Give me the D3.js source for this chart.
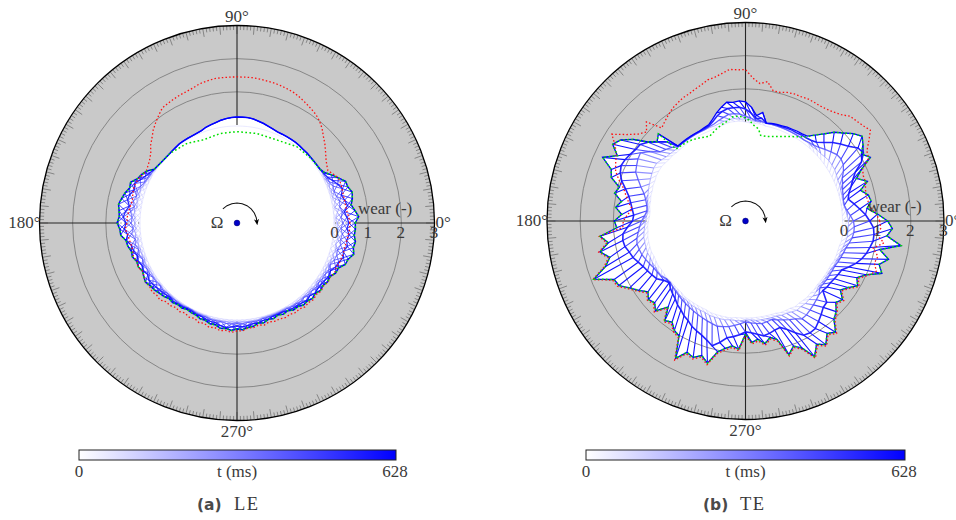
<!DOCTYPE html>
<html><head><meta charset="utf-8">
<script src="https://cdn.jsdelivr.net/npm/d3@7"></script>
<style>html,body{margin:0;background:#fff}svg{display:block}</style></head>
<body><svg id="c" width="956" height="520"></svg>
<script>
// Angles of the common sampling grid (degrees, counter-clockwise from east)
const gridAngles = d3.range(0, 360, 3);
const wearTicks = [0, 1, 2, 3];
const angleLabels = ["0°", "90°", "180°", "270°"];
const colorbarLabels = ["0", "t (ms)", "628"];
const tMax = 628;
const snapshotTimes = [60, 170, 370, 540, 628];

// LE panel: wear per snapshot, 10 values per row = 30 degrees
const leInner = [
 -.03,-.03,-.03,-.03,-.03,-.03,-.03,-.03,-.03,-.03,
 -.03,-.03,-.03,-.03,-.03,-.03,-.03,-.03,-.03,-.03,
 -.03,-.03,-.03,-.03,-.03,-.03,-.03,-.03,-.03,-.03,
 -.03,-.03,-.03,-.03,-.03,-.03,-.03,-.03,-.03,-.03,
 -.03,-.03,-.03,-.03,-.04,-.05,-.05,-.05,-.04,-.04,
 -.03,-.03,-.03,-.03,-.03,-.03,-.03,-.03,-.03,-.03,
 -.03,-.03,-.03,-.03,-.03,-.03,-.03,-.03,-.03,-.03,
 -.03,-.03,-.03,-.03,-.03,-.03,-.03,-.03,-.03,-.03,
 -.03,-.03,-.03,-.03,-.03,-.03,-.03,-.03,-.03,-.03,
 -.03,-.03,-.03,-.03,-.03,-.03,-.03,-.03,-.03,-.03,
 -.03,-.03,-.03,-.03,-.03,-.03,-.03,-.03,-.03,-.03,
 -.03,-.03,-.03,-.03,-.03,-.03,-.03,-.03,-.03,-.03];
const leLow = [
 .06,.03,.09,.03,.06,.03,.03,.03,.03,.0,
 .02,.02,.02,.02,.02,.03,.03,.04,.05,.05,
 .05,.05,.05,.08,.11,.15,.18,.22,.24,.24,
 .24,.23,.21,.18,.14,.11,.08,.03,.01,0,
 0,0,0,-.02,-.03,-.04,-.04,-.03,-.01,.01,
 .01,.03,.06,.09,.12,.09,.12,.09,.15,.12,
 .12,.09,.12,.06,.09,.06,.06,.03,.06,.03,
 .03,.03,.03,.01,.03,.01,.0,.01,.0,.0,
 -.01,-.01,.0,.0,.0,.03,.03,.03,.03,.03,
 .03,.03,.03,.03,.03,.0,.0,.0,.0,.0,
 .0,.03,.03,.03,.03,.03,.03,.06,.03,.06,
 .06,.06,.06,.09,.09,.12,.09,.12,.09,.09];
const leMid = [
 .24,.18,.24,.18,.21,.15,.12,.15,.09,.05,
 .04,.02,.02,.02,.02,.03,.03,.04,.05,.05,
 .05,.05,.05,.08,.11,.15,.18,.22,.24,.24,
 .24,.23,.21,.18,.14,.11,.08,.03,.01,0,
 0,0,0,-.02,-.03,-.04,-.04,-.03,-.01,.01,
 .03,.06,.09,.15,.21,.18,.24,.18,.27,.21,
 .24,.18,.24,.15,.18,.12,.15,.09,.12,.09,
 .09,.06,.06,.03,.06,.03,.03,.03,.03,.03,
 0,0,.03,.03,.03,.06,.06,.06,.09,.09,
 .06,.09,.06,.06,.06,.03,.03,.03,.03,.03,
 .03,.06,.06,.09,.06,.09,.09,.12,.09,.12,
 .12,.15,.12,.18,.21,.18,.24,.21,.24,.18];
const leDark = [
 .42,.36,.30,.42,.36,.30,.39,.30,.20,.10,
 .05,.02,.02,.02,.02,.03,.03,.04,.05,.05,
 .05,.05,.05,.08,.11,.15,.18,.22,.24,.24,
 .24,.23,.21,.18,.14,.11,.08,.03,.01,0,
 0,0,0,-.02,-.03,-.04,-.04,-.03,-.01,.01,
 .08,.15,.24,.36,.30,.39,.42,.33,.42,.48,
 .39,.45,.36,.42,.30,.27,.21,.24,.18,.21,
 .15,.21,.18,.15,.12,.09,.06,.09,.06,.06,
 .03,.03,.06,.06,.09,.12,.12,.18,.21,.18,
 .15,.18,.15,.12,.12,.09,.09,.06,.06,.06,
 .09,.12,.12,.15,.18,.15,.21,.18,.18,.21,
 .24,.21,.30,.33,.42,.36,.45,.39,.45,.36];
const leFinal = [
 .61,.72,.62,.53,.60,.64,.56,.55,.39,.24,
 .09,.03,.02,.02,.02,.03,.03,.04,.05,.05,
 .05,.05,.05,.08,.11,.15,.18,.22,.24,.24,
 .24,.23,.21,.18,.14,.11,.08,.03,.01,0,
 0,0,0,-.02,-.03,-.04,-.04,-.03,-.01,.02,
 .18,.27,.33,.48,.45,.54,.60,.66,.62,.60,
 .66,.58,.57,.43,.41,.34,.36,.28,.30,.24,
 .29,.33,.27,.25,.20,.17,.11,.13,.08,.10,
 .05,.08,.08,.14,.13,.19,.18,.26,.24,.29,
 .24,.27,.21,.20,.13,.16,.10,.13,.08,.13,
 .10,.17,.16,.23,.21,.26,.22,.28,.25,.30,
 .28,.38,.39,.54,.57,.69,.63,.66,.60,.62];
const leRed = [
 .45,.42,.38,.36,.36,.36,.38,.39,.39,.30,
 .21,.27,.36,.48,.61,.73,.88,1.0,1.09,1.15,
 1.21,1.27,1.33,1.36,1.39,1.41,1.42,1.44,1.45,1.45,
 1.45,1.45,1.45,1.45,1.42,1.39,1.33,1.29,1.27,1.24,
 1.21,1.18,1.06,.94,.82,.67,.55,.39,.30,.24,
 .20,.24,.30,.33,.33,.30,.27,.30,.33,.36,
 .36,.42,.36,.33,.30,.30,.33,.27,.31,.24,
 .28,.33,.30,.34,.30,.33,.24,.25,.19,.23,
 .18,.23,.19,.26,.23,.30,.27,.33,.30,.35,
 .30,.30,.23,.24,.19,.23,.18,.22,.21,.25,
 .23,.27,.25,.30,.27,.31,.26,.31,.27,.32,
 .29,.35,.32,.36,.37,.38,.38,.40,.42,.45];
const leGreenTopAngles = [32,41,52,64.5,77.6,90,100.7,112,122,134,147];
const leGreenTop = [.03,.01,-.03,-.18,-.19,-.20,-.21,-.25,-.12,-.04,.02];

// TE panel
const teInner = [
 -.06,-.06,-.06,-.06,-.06,-.06,-.06,-.06,-.06,-.06,
 -.06,-.06,-.06,-.06,-.06,-.06,-.06,-.06,-.06,-.06,
 -.06,-.06,-.06,-.06,-.06,-.06,-.06,-.03,-.03,-.03,
 0,.03,.03,.03,.0,-.03,-.03,-.06,-.06,-.06,
 -.06,-.06,-.06,-.06,-.06,-.06,-.03,-.03,0,.03,
 .03,.03,.0,0,-.03,-.03,-.06,-.06,-.09,-.09,
 -.06,-.03,-.03,0,.0,0,.0,-.03,-.03,-.03,
 -.06,-.06,-.06,-.09,-.09,-.09,-.09,-.06,-.06,-.06,
 -.06,-.06,-.06,-.03,-.03,-.03,-.03,-.03,-.06,-.06,
 -.06,-.06,-.06,-.06,-.06,-.06,-.06,-.03,-.03,-.03,
 0,-.03,-.03,-.03,-.06,-.06,-.09,-.09,-.09,-.09,
 -.09,-.09,-.06,-.06,-.06,-.06,-.03,-.03,-.03,-.03];
const teLow = [
 .12,.09,.06,.03,.03,.03,.03,.06,.06,.09,
 .12,.12,.12,.09,.06,.06,.03,.03,.03,.03,
 .03,.03,.03,.03,.03,.03,.03,.03,.03,.06,
 .09,.09,.12,.12,.09,.06,.03,.03,.03,.03,
 .03,.03,.03,.03,.03,.03,.06,.09,.15,.21,
 .21,.18,.15,.12,.09,.06,.03,0,-.03,0,
 .03,.06,.09,.12,.12,.12,.12,.09,.09,.06,
 .06,.03,0,-.03,-.03,-.03,0,0,0,.03,
 .03,.03,.03,.06,.06,.06,.06,.03,.03,.03,
 0,0,.03,.03,.03,.03,.03,.06,.06,.09,
 .12,.09,.09,.06,.06,.03,-.03,-.03,-.03,-.03,
 -.03,0,0,.03,.03,.06,.09,.12,.12,.12];
const teMid = [
 .27,.18,.09,.03,.03,.06,.09,.15,.21,.33,
 .42,.45,.42,.33,.24,.15,.09,.06,.03,.03,
 .03,.03,.03,.03,.03,.03,.03,.06,.06,.12,
 .18,.24,.27,.27,.21,.15,.09,.06,.03,.03,
 .03,.03,.03,.03,.03,.15,.24,.33,.58,.79,
 .76,.70,.64,.48,.33,.18,.09,.03,0,.06,
 .15,.21,.27,.33,.36,.33,.30,.24,.18,.12,
 .09,.06,-.03,-.06,-.03,0,.03,.06,.09,.12,
 .15,.18,.21,.24,.27,.30,.27,.24,.18,.12,
 .06,.09,.12,.15,.12,.09,.15,.21,.27,.33,
 .42,.39,.33,.27,.21,.15,.03,.03,.03,.03,
 .03,.03,.06,.09,.12,.15,.21,.27,.30,.30];
const teDark = [
 .76,.64,.48,.33,.18,.24,.36,.48,.64,.94,
 1.12,1.06,.85,.70,.55,.36,.21,.15,.12,.11,
 .09,.09,.08,.06,.06,.05,.03,.15,.12,.27,
 .39,.45,.45,.45,.39,.30,.18,.09,.06,.05,
 .05,.05,.05,.05,.05,.39,.58,.79,.94,.97,
 1.03,1.09,1.12,1.06,.94,.76,.61,.52,.45,.39,
 .42,.58,.73,.76,.73,.64,.58,.48,.39,.33,
 .27,.21,.06,-.03,.06,.12,.18,.27,.33,.42,
 .48,.58,.64,.70,.79,.91,.76,.58,.52,.45,
 .36,.39,.45,.52,.48,.42,.39,.52,.70,.88,
 .91,.88,.76,.64,.52,.48,.15,.18,.18,.21,
 .24,.27,.42,.58,.70,.79,.85,.91,.91,.88];
const teFinal = [
 1.30,1.00,.70,.85,.80,.60,.88,.60,.84,1.24,
 1.05,1.24,1.36,1.20,.98,.80,.55,.35,.18,.15,
 .14,.12,.11,.09,.08,.06,.03,.33,.21,.45,
 .61,.64,.61,.64,.52,.39,.24,.12,.09,.06,
 .06,.06,.06,.06,.06,.73,.60,.80,1.20,1.50,
 1.64,1.35,1.73,1.35,1.27,.95,1.05,.80,.95,.75,
 .97,.90,1.42,1.20,1.50,1.25,1.45,1.91,1.35,1.30,
 1.05,.85,.65,.78,.70,.85,.50,.88,.78,.95,
 1.02,1.66,1.35,1.42,1.28,1.45,1.05,.90,.80,.88,
 .42,.68,.60,.76,.60,.72,1.25,1.05,1.21,1.60,
 1.30,1.46,1.20,1.33,1.00,.88,.68,.78,.55,.70,
 .92,.78,1.00,1.42,1.25,1.48,1.15,1.76,1.30,1.45];
const teRed = [
 1.06,.97,.82,.76,.73,.76,.82,.82,.88,1.18,
 1.24,1.45,1.67,1.58,1.52,1.48,1.33,1.24,1.18,1.15,
 1.15,1.15,1.12,1.12,1.09,1.03,1.03,1.27,1.18,1.33,
 1.58,1.58,1.61,1.52,1.45,1.42,1.33,1.27,1.21,1.18,
 1.12,1.06,.97,.88,.79,1.24,1.03,1.18,1.45,1.82,
 1.55,1.39,1.30,1.21,1.03,.82,.70,.58,.45,.58,
 .70,.72,1.45,1.25,1.54,1.30,1.50,1.95,1.40,1.35,
 1.10,.90,.70,.82,.75,.90,.55,.93,.83,1.0,
 1.07,1.72,1.40,1.47,1.33,1.50,1.10,.95,.85,.93,
 .47,.73,.65,.81,.65,.77,1.30,1.10,1.26,1.66,
 1.35,1.51,1.25,1.38,1.05,.93,.73,.83,.60,.75,
 .97,.83,1.05,1.24,1.10,1.15,.95,1.24,1.0,1.1];
const teGreenTopAngles = [54,64,70,76,80,82,85,88,91,94,97,101,104,107,113,119,125,130,134];
const teGreenTop = [.15,-.15,-.27,-.36,-.36,-.18,-.09,.06,.15,.18,.18,.06,0,-.06,-.21,-.12,-.03,0,.03];

// Wear from which each spoke is solid: [0, 90, 180, 270] degrees
const spokeAngles = [0, 90, 180, 270];
const leSpokeSolid = [.6, 0, .6, .25];
const teSpokeSolid = [0, 0, 0, 0];
const leNoLink = [[30, 147]];
const teNoLink = [[54, 78], [108, 132]];

const svg = d3.select("#c");
const color = d3.scaleLinear().domain([0, tMax]).range(["#ffffff", "#0000ff"]);
const aScale = d3.scaleLinear().domain([0, 360]).range([Math.PI / 2, Math.PI / 2 - 2 * Math.PI]);
const TEXT = "#3a3a3a", SERIF = "'Liberation Serif', serif";
const px = (r, a) => r * Math.sin(aScale(a)), py = (r, a) => -r * Math.cos(aScale(a));

function panel(o) {
  const g = svg.append("g").attr("transform", `translate(${o.cx},${o.cy})`);
  const r = d3.scaleLinear().domain([0, 3]).range([o.r0, o.rOut]);
  const closed = d3.lineRadial().angle(d => aScale(d[0])).radius(d => r(d[1])).curve(d3.curveLinearClosed);
  const open = d3.lineRadial().angle(d => aScale(d[0])).radius(d => r(d[1]));
  const pts = s => s.map((v, i) => [gridAngles[i], v]);
  const n = gridAngles.length;

  g.append("circle").attr("r", r(3)).attr("fill", "#c9c9c9");
  g.append("path").attr("d", closed(pts(o.final))).attr("fill", "#fff");
  g.selectAll("circle.ring").data([1, 2]).join("circle").attr("class", "ring")
    .attr("r", d => r(d)).attr("fill", "none").attr("stroke", "#7f7f7f").attr("stroke-width", 0.9);
  g.selectAll("line.tick").data(d3.range(0, 360, 1)).join("line").attr("class", "tick")
    .attr("x1", d => px(r(3), d)).attr("y1", d => py(r(3), d))
    .attr("x2", d => px(r(3) - (d % 5 === 0 ? 8.5 : 4.5), d))
    .attr("y2", d => py(r(3) - (d % 5 === 0 ? 8.5 : 4.5), d))
    .attr("stroke", "#858585").attr("stroke-width", 1);
  spokeAngles.forEach((a, i) => {
    const s = o.spokeSolid[i];
    g.append("line").attr("x1", px(r(s), a)).attr("y1", py(r(s), a)).attr("x2", px(r(3), a)).attr("y2", py(r(3), a))
      .attr("stroke", "#262626").attr("stroke-width", 1.1);
    if (s > 0) g.append("line").attr("x1", px(r(0), a)).attr("y1", py(r(0), a)).attr("x2", px(r(s), a)).attr("y2", py(r(s), a))
      .attr("stroke", "#333").attr("stroke-width", .8).attr("stroke-dasharray", "1 2.5");
  });
  g.append("circle").attr("r", r(3)).attr("fill", "none").attr("stroke", "#000").attr("stroke-width", 1.3);

  const levels = [o.inner, o.low, o.mid, o.dark, o.final];
  const skip = a => o.noLink.some(([p, q]) => a >= p && a <= q);
  levels.forEach((lv, k) => {
    if (k > 0) {
      const prev = levels[k - 1];
      const t = (snapshotTimes[k] + snapshotTimes[k - 1]) / 2;
      const segs = [];
      for (let i = 0; i < n; i++) {
        if (skip(gridAngles[i])) continue;
        const j = (i + o.slant + n) % n;
        segs.push(open([[gridAngles[i], lv[i]], [gridAngles[j], prev[j]]]));
        if (o.cross) {
          const m = (i - o.slant + n) % n;
          segs.push(open([[gridAngles[i], lv[i]], [gridAngles[m], prev[m]]]));
        }
      }
      g.append("path").attr("d", segs.join("")).attr("fill", "none")
        .attr("stroke", color(t)).attr("stroke-width", k < 2 ? .7 : o.linkWidth);
    }
    g.append("path").attr("d", closed(pts(lv))).attr("fill", "none")
      .attr("stroke", color(snapshotTimes[k])).attr("stroke-width", o.widths[k]);
  });

  g.append("path").attr("d", closed(pts(o.red))).attr("fill", "none")
    .attr("stroke", "#ff1010").attr("stroke-width", 1.3).attr("stroke-dasharray", "1.5 2.2");
  const A0 = o.greenTopAngles[0], A1 = o.greenTopAngles[o.greenTopAngles.length - 1];
  const green = pts(o.final).filter(d => d[0] < A0)
    .concat(o.greenTopAngles.map((a, i) => [a, o.greenTop[i]]))
    .concat(pts(o.final).filter(d => d[0] > A1));
  g.append("path").attr("d", closed(green)).attr("fill", "none")
    .attr("stroke", "#00e000").attr("stroke-width", 1.5).attr("stroke-dasharray", "1.7 2.4");

  g.append("circle").attr("r", 2.9).attr("fill", "#0000c8").attr("stroke", "#00006a").attr("stroke-width", .5);
  const arrowId = "arrow" + o.key;
  svg.append("defs").append("marker").attr("id", arrowId).attr("viewBox", "0 0 8 8").attr("refX", 5).attr("refY", 4)
    .attr("markerWidth", 6).attr("markerHeight", 6).attr("orient", "auto")
    .append("path").attr("d", "M0,0.8L8,4L0,7.2L2,4Z").attr("fill", "#000");
  g.append("path").attr("d", d3.lineRadial().angle(d => aScale(d)).radius(o.arrowR)(d3.range(135, -1, -15)))
    .attr("fill", "none").attr("stroke", "#111").attr("stroke-width", 1.05).attr("marker-end", `url(#${arrowId})`);

  const txt = (x, y, s, anchor = "middle", size = 17) => svg.append("text").attr("x", x).attr("y", y)
    .attr("text-anchor", anchor).attr("font-family", SERIF).attr("font-size", size).attr("fill", TEXT).text(s);
  txt(o.cx - 20, o.cy + 5, "Ω", "middle", 17);
  wearTicks.forEach(w => txt(o.cx + r(w) - 0.5, o.cy + 15, w));
  txt(o.cx + o.wearX, o.cy - 9, "wear (-)", "start");
  txt(o.cx, o.cy - r(3) - 4, angleLabels[1]);
  txt(o.cx, o.cy + r(3) + 16, angleLabels[3]);
  txt(o.cx - r(3) + 1, o.cy + 5, angleLabels[2], "end");
  txt(o.cx + r(3) + 1, o.cy + 5, angleLabels[0], "start");

  const x = d3.scaleLinear().domain([0, tMax]).range([o.barX0, o.barX1]);
  const gid = "grad" + o.key;
  const grad = svg.append("defs").append("linearGradient").attr("id", gid);
  [0, tMax].forEach(v => grad.append("stop").attr("offset", v / tMax).attr("stop-color", color(v)));
  svg.append("rect").attr("x", x(0)).attr("y", 450).attr("width", x(tMax) - x(0)).attr("height", 10)
    .attr("fill", `url(#${gid})`).attr("stroke", "#222").attr("stroke-width", 1);
  txt(x(0), 477, colorbarLabels[0]);
  txt(o.cx, 477, colorbarLabels[1]);
  txt(x(tMax) - 1, 477, colorbarLabels[2]);

  svg.append("text").attr("x", o.capX).attr("y", 510).attr("font-family", "'DejaVu Sans', sans-serif").attr("font-weight", 700)
    .attr("font-size", 15.5).attr("fill", "#4a4a4a").text(o.capA);
  svg.append("text").attr("x", o.capX + 37).attr("y", 510).attr("font-family", SERIF).attr("font-size", 18.5)
    .attr("letter-spacing", 1.5).attr("fill", TEXT).text(o.capB);
}

panel({ key: "a", cx: 237, cy: 223, r0: 98, rOut: 197.5, arrowR: 20, wearX: 121,
  inner: leInner, low: leLow, mid: leMid, dark: leDark, final: leFinal, red: leRed,
  greenTopAngles: leGreenTopAngles, greenTop: leGreenTop, spokeSolid: leSpokeSolid, noLink: leNoLink,
  widths: [.9, .8, .9, 1.2, 1.5], slant: 1, cross: true, linkWidth: .8,
  barX0: 79, barX1: 396, capX: 197, capA: "(a)", capB: "LE" });
panel({ key: "b", cx: 745.5, cy: 221, r0: 99, rOut: 198.5, arrowR: 20, wearX: 122,
  inner: teInner, low: teLow, mid: teMid, dark: teDark, final: teFinal, red: teRed,
  greenTopAngles: teGreenTopAngles, greenTop: teGreenTop, spokeSolid: teSpokeSolid, noLink: teNoLink,
  widths: [.9, 1, 1.3, 1.6, 1.3], slant: -1, cross: false, linkWidth: 1.1,
  barX0: 586, barX1: 905, capX: 703, capA: "(b)", capB: "TE" });
</script></body></html>
